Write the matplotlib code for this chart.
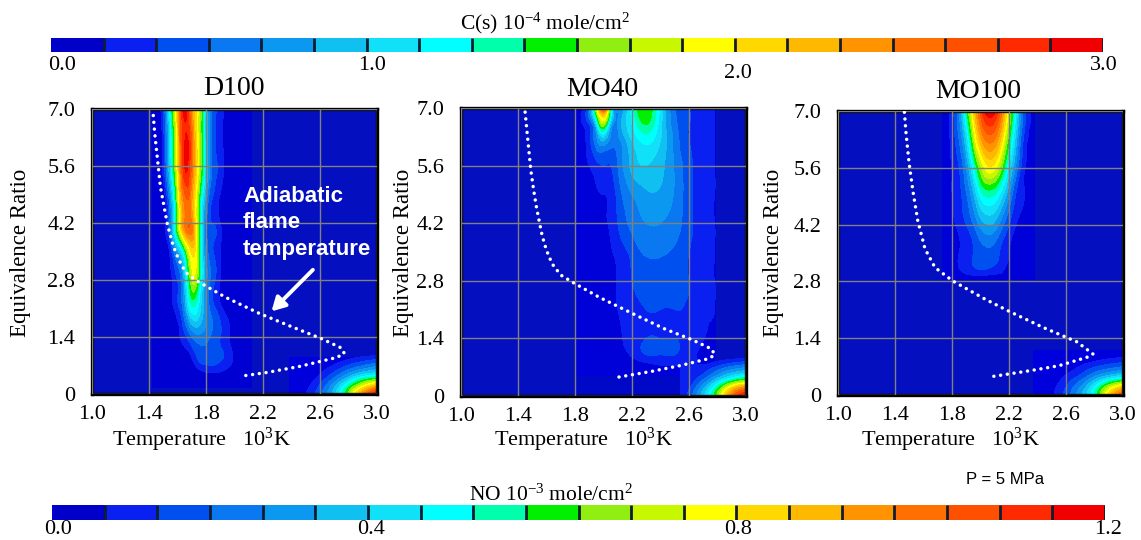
"""Soot and NO maps over temperature and equivalence ratio for three fuels."""

from __future__ import annotations

import matplotlib

matplotlib.use("Agg")

import matplotlib.pyplot as plt
import numpy as np
from matplotlib.colors import BoundaryNorm, ListedColormap
from matplotlib.patches import Rectangle
from matplotlib.tri import CubicTriInterpolator, Triangulation, UniformTriRefiner

plt.rcParams["font.family"] = ["Liberation Serif", "DejaVu Serif"]
plt.rcParams["mathtext.default"] = "regular"

FIG_W, FIG_H = 1141, 540

LEVEL_COLORS = [
    "#0000c8", "#0a20f0", "#0050f0", "#0a78f0", "#0a98f0",
    "#10c0f0", "#10e0f8", "#00ffff", "#00ffaa", "#00f000",
    "#90ee10", "#c8f800", "#ffff00", "#ffd800", "#ffb800",
    "#ff9400", "#ff7000", "#ff5000", "#ff2a00", "#f00000",
]
SOOT_LEVELS = np.linspace(0.0, 3.0, 21)
NO_LEVELS = np.linspace(0.0, 1.2, 21)

X_TICKS = [1.0, 1.4, 1.8, 2.2, 2.6, 3.0]
Y_TICKS = [0, 1.4, 2.8, 4.2, 5.6, 7.0]
Y_TICK_LABELS = ["0", "1.4", "2.8", "4.2", "5.6", "7.0"]

# C(s), 10^-4 mole/cm2
D100_T = [1.0, 1.3, 1.4, 1.45, 1.5, 1.55, 1.6, 1.65, 1.7, 1.75, 1.8, 1.85, 1.9, 1.95, 2.0, 2.05, 2.1, 2.2, 3.0]
D100_PHI = [0.0, 0.25, 0.5, 0.8, 1.4, 2.1, 2.8, 3.5, 4.2, 5.6, 7.0]
D100_SOOT = [
    [0, 0, 0, 0, 0, 0, 0, 0, 0, 0, 0, 0, 0, 0, 0, 0, 0, 0, 0],
    [0, 0, 0, 0, 0, 0, 0, 0, 0, 0, 0, 0, 0, 0, 0, 0, 0, 0, 0],
    [0, 0, 0, 0, 0, 0, 0, 0, 0, 0.05, 0.12, 0.12, 0.12, 0.05, 0, 0, 0, 0, 0],
    [0, 0, 0, 0, 0, 0, 0, 0, 0.1, 0.3, 0.35, 0.35, 0.3, 0.25, 0.1, 0, 0, 0, 0],
    [0, 0, 0, 0, 0, 0, 0.1, 0.25, 0.45, 0.55, 0.5, 0.4, 0.3, 0.2, 0.05, 0, 0, 0, 0],
    [0, 0, 0, 0, 0, 0.05, 0.25, 0.6, 1.15, 1.0, 0.6, 0.35, 0.2, 0.05, 0, 0, 0, 0, 0],
    [0, 0, 0, 0, 0, 0.1, 0.3, 0.8, 1.65, 1.35, 0.65, 0.35, 0.15, 0, 0, 0, 0, 0, 0],
    [0, 0, 0, 0, 0, 0.2, 0.7, 1.3, 2.0, 1.45, 0.55, 0.3, 0.15, 0, 0, 0, 0, 0, 0],
    [0, 0, 0, 0, 0.05, 0.5, 1.55, 2.4, 2.4, 1.4, 0.5, 0.3, 0.15, 0, 0, 0, 0, 0, 0],
    [0, 0, 0, 0, 0.2, 0.95, 1.9, 2.85, 2.5, 1.75, 0.95, 0.4, 0.25, 0.05, 0, 0, 0, 0, 0],
    [0, 0, 0, 0.05, 0.3, 1.2, 2.1, 2.95, 2.3, 1.75, 0.95, 0.4, 0.25, 0.05, 0, 0, 0, 0, 0],
]
MO40_T = [1.0, 1.7, 1.8, 1.9, 1.95, 2.0, 2.05, 2.1, 2.2, 2.3, 2.4, 2.5, 2.6, 2.7, 2.78, 2.9, 3.0]
MO40_PHI = [0.0, 0.5, 0.75, 1.0, 1.4, 2.1, 2.8, 3.5, 4.2, 4.9, 5.6, 6.2, 6.6, 7.0]
MO40_SOOT = [
    [0, 0, 0, 0, 0, 0, 0, 0, 0, 0, 0, 0, 0, 0, 0, 0, 0],
    [0, 0, 0, 0, 0, 0, 0, 0, 0, 0, 0, 0, 0, 0, 0, 0, 0],
    [0, 0, 0, 0, 0, 0, 0, 0, 0.05, 0.1, 0.15, 0.15, 0.15, 0.1, 0, 0, 0],
    [0, 0, 0, 0, 0, 0, 0, 0.05, 0.17, 0.3, 0.3, 0.3, 0.2, 0.1, 0, 0, 0],
    [0, 0, 0, 0, 0, 0, 0.02, 0.1, 0.2, 0.3, 0.3, 0.3, 0.25, 0.16, 0.05, 0, 0],
    [0, 0, 0, 0, 0, 0, 0.05, 0.15, 0.25, 0.3, 0.3, 0.3, 0.28, 0.18, 0.15, 0, 0],
    [0, 0, 0, 0, 0, 0, 0.1, 0.16, 0.3, 0.33, 0.33, 0.33, 0.3, 0.2, 0.15, 0, 0],
    [0, 0, 0, 0, 0, 0.02, 0.12, 0.2, 0.35, 0.48, 0.48, 0.42, 0.3, 0.2, 0.15, 0, 0],
    [0, 0, 0, 0, 0, 0.1, 0.18, 0.3, 0.5, 0.6, 0.6, 0.52, 0.35, 0.2, 0.15, 0, 0],
    [0, 0, 0, 0, 0.1, 0.15, 0.2, 0.35, 0.6, 0.72, 0.72, 0.58, 0.35, 0.2, 0.15, 0, 0],
    [0, 0, 0, 0.15, 0.25, 0.3, 0.3, 0.45, 0.8, 0.9, 0.8, 0.58, 0.35, 0.2, 0.15, 0, 0],
    [0, 0, 0.05, 0.25, 0.55, 0.75, 0.55, 0.55, 0.9, 1.1, 0.9, 0.55, 0.3, 0.25, 0.15, 0, 0],
    [0, 0, 0.05, 0.3, 0.9, 1.6, 0.8, 0.6, 1.05, 1.35, 0.95, 0.5, 0.3, 0.25, 0.15, 0, 0],
    [0, 0, 0.1, 0.5, 1.7, 2.8, 1.2, 0.65, 1.15, 1.5, 1.0, 0.45, 0.3, 0.25, 0.15, 0, 0],
]
MO100_T = [1.0, 1.65, 1.75, 1.8, 1.85, 1.9, 1.95, 2.0, 2.05, 2.1, 2.15, 2.2, 2.25, 2.3, 2.4, 2.5, 3.0]
MO100_PHI = [0.0, 2.5, 2.8, 3.0, 3.5, 4.2, 5.0, 5.6, 6.3, 7.0]
MO100_SOOT = [
    [0, 0, 0, 0, 0, 0, 0, 0, 0, 0, 0, 0, 0, 0, 0, 0, 0],
    [0, 0, 0, 0, 0, 0, 0, 0, 0, 0, 0, 0, 0, 0, 0, 0, 0],
    [0, 0, 0, 0, 0, 0, 0, 0, 0, 0, 0, 0, 0, 0, 0, 0, 0],
    [0, 0, 0, 0.02, 0.1, 0.16, 0.2, 0.22, 0.2, 0.17, 0.14, 0.05, 0, 0, 0, 0, 0],
    [0, 0, 0, 0.05, 0.15, 0.22, 0.3, 0.4, 0.42, 0.38, 0.25, 0.15, 0.05, 0, 0, 0, 0],
    [0, 0, 0.02, 0.1, 0.2, 0.3, 0.45, 0.65, 0.75, 0.7, 0.5, 0.3, 0.15, 0.1, 0, 0, 0],
    [0, 0, 0.05, 0.15, 0.25, 0.45, 0.75, 1.15, 1.3, 1.25, 1.0, 0.65, 0.3, 0.16, 0.05, 0, 0],
    [0, 0, 0.05, 0.15, 0.3, 0.6, 1.1, 1.6, 1.9, 1.85, 1.5, 1.0, 0.55, 0.2, 0.08, 0, 0],
    [0, 0, 0.05, 0.2, 0.45, 0.9, 1.6, 2.2, 2.45, 2.4, 2.0, 1.4, 0.8, 0.3, 0.1, 0, 0],
    [0, 0, 0.05, 0.25, 0.55, 1.3, 2.0, 2.6, 2.95, 2.9, 2.4, 1.7, 1.0, 0.4, 0.1, 0, 0],
]

# NO, 10^-3 mole/cm2, hot lean corner of each map
NO_T = [2.4, 2.5, 2.6, 2.7, 2.8, 2.9, 3.0]
NO_PHI = [0.0, 0.2, 0.4, 0.6, 0.8, 1.0]
D100_NO = [
    [0, 0.06, 0.16, 0.34, 0.62, 0.95, 1.15],
    [0, 0.04, 0.13, 0.28, 0.5, 0.72, 0.88],
    [0, 0.02, 0.08, 0.18, 0.32, 0.46, 0.52],
    [0, 0, 0.04, 0.1, 0.18, 0.25, 0.3],
    [0, 0, 0.01, 0.04, 0.08, 0.12, 0.15],
    [0, 0, 0, 0, 0.01, 0.02, 0.03],
]
MO40_NO = [
    [0, 0.03, 0.14, 0.34, 0.62, 0.98, 1.15],
    [0, 0.02, 0.11, 0.28, 0.52, 0.8, 0.95],
    [0, 0, 0.07, 0.18, 0.33, 0.48, 0.58],
    [0, 0, 0.04, 0.1, 0.19, 0.27, 0.32],
    [0, 0, 0.01, 0.04, 0.08, 0.12, 0.15],
    [0, 0, 0, 0, 0, 0, 0],
]
MO100_NO = [
    [0, 0.05, 0.14, 0.28, 0.48, 0.8, 1.05],
    [0, 0.04, 0.12, 0.24, 0.42, 0.66, 0.82],
    [0, 0.02, 0.08, 0.16, 0.28, 0.4, 0.48],
    [0, 0, 0.04, 0.09, 0.16, 0.21, 0.25],
    [0, 0, 0.01, 0.04, 0.07, 0.1, 0.12],
    [0, 0, 0, 0, 0.01, 0.02, 0.03],
]

# adiabatic flame temperature
D100_FLAME_T = [1.43, 1.44, 1.46, 1.48, 1.51, 1.53, 1.57, 1.61, 1.66, 1.73, 1.94, 2.18, 2.41, 2.61, 2.75, 2.77, 2.72, 2.46, 2.23, 2.07]
D100_FLAME_PHI = [6.84, 6.41, 5.75, 5.09, 4.52, 4.15, 3.64, 3.29, 2.98, 2.79, 2.37, 1.97, 1.64, 1.36, 1.13, 1.00, 0.90, 0.68, 0.53, 0.45]
MO40_FLAME_T = [1.45, 1.46, 1.475, 1.49, 1.51, 1.53, 1.55, 1.57, 1.60, 1.64, 1.70, 1.79, 1.97, 2.20, 2.43, 2.62, 2.76, 2.78, 2.74, 2.54, 2.34, 2.09]
MO40_FLAME_PHI = [6.90, 6.54, 6.01, 5.49, 5.0, 4.58, 4.23, 3.89, 3.54, 3.21, 2.94, 2.75, 2.40, 2.01, 1.63, 1.37, 1.14, 1.00, 0.91, 0.74, 0.60, 0.45]
MO100_FLAME_T = [1.466, 1.478, 1.499, 1.527, 1.56, 1.611, 1.681, 1.806, 2.028, 2.208, 2.443, 2.677, 2.789, 2.747, 2.548, 2.349, 2.091]
MO100_FLAME_PHI = [6.97, 6.43, 5.71, 5.0, 4.29, 3.6, 3.14, 2.81, 2.37, 2.05, 1.66, 1.31, 1.01, 0.93, 0.72, 0.6, 0.46]

PANELS = [
    {"name": "D100", "box": (92, 109, 377, 394), "title": (234, 89),
     "temps": D100_T, "phis": D100_PHI, "soot": D100_SOOT, "no": D100_NO,
     "flame": (D100_FLAME_T, D100_FLAME_PHI),
     "back": [(1.42, 0.15, 2.12, 6.95, "#0000d2"), (2.38, 0.0, 2.98, 0.92, "#0000dc")],
     "ylabel_x": 21, "xlabel": (201, 440)},
    {"name": "MO40", "box": (461, 108, 746, 396), "title": (602, 90),
     "temps": MO40_T, "phis": MO40_PHI, "soot": MO40_SOOT, "no": MO40_NO,
     "flame": (MO40_FLAME_T, MO40_FLAME_PHI),
     "back": [(1.8, 0.45, 2.79, 7.0, "#0000d8"), (1.8, 0.0, 2.54, 0.48, "#0008c8"),
              (2.54, 0.0, 3.0, 0.78, "#0a20ee")],
     "ylabel_x": 403, "xlabel": (583, 440)},
    {"name": "MO100", "box": (838, 111, 1123, 395), "title": (978, 92),
     "temps": MO100_T, "phis": MO100_PHI, "soot": MO100_SOOT, "no": MO100_NO,
     "flame": (MO100_FLAME_T, MO100_FLAME_PHI),
     "back": [(1.73, 2.83, 2.38, 7.0, "#0000d8"), (2.37, 0.0, 3.0, 1.1, "#0000dc")],
     "ylabel_x": 774, "xlabel": (950, 440)},
]


def px_x(x: float) -> float:
    """Convert a pixel column to a figure fraction."""
    return x / FIG_W


def px_y(y: float) -> float:
    """Convert a pixel row (from the top) to a figure fraction."""
    return 1 - y / FIG_H


def fig_text(fig: plt.Figure, x: float, y: float, text: str, size: float = 16, **kwargs) -> None:
    """Place centred text at a pixel position."""
    fig.text(px_x(x), px_y(y), text, ha="center", va="center", fontsize=size, **kwargs)


def draw_field(ax: plt.Axes, temps, phis, values, levels) -> None:
    """Draw one stepped field, leaving the lowest level as background."""
    tt, pp = np.meshgrid(temps, phis)
    tri = Triangulation(tt.ravel(), pp.ravel())
    z = np.asarray(values, dtype=float).ravel()
    interp = CubicTriInterpolator(tri, z, kind="min_E")
    fine_tri, fine_z = UniformTriRefiner(tri).refine_field(z, interp, subdiv=3)
    # the spline overshoots a little at the ridges, keep it on the scale
    fine_z = np.clip(fine_z, levels[0], levels[-1] * 0.999)
    ax.tricontourf(fine_tri, fine_z, levels=levels[1:], colors=LEVEL_COLORS[1:],
                   zorder=1.5, antialiased=False)


def draw_panel(fig: plt.Figure, panel: dict) -> plt.Axes:
    """Draw one map with its grid, flame curve and labels."""
    left, top, right, bottom = panel["box"]
    ax = fig.add_axes([px_x(left), px_y(bottom), (right - left) / FIG_W, (bottom - top) / FIG_H])
    ax.set_facecolor("#0410c0")
    for t0, p0, t1, p1, color in panel["back"]:
        ax.add_patch(Rectangle((t0, p0), t1 - t0, p1 - p0, facecolor=color, edgecolor="none", zorder=1))
    draw_field(ax, panel["temps"], panel["phis"], panel["soot"], SOOT_LEVELS)
    draw_field(ax, NO_T, NO_PHI, panel["no"], NO_LEVELS)
    ax.set_xlim(1.0, 3.0)
    ax.set_ylim(0.0, 7.0)
    ax.set_xticks(X_TICKS)
    ax.set_xticklabels([f"{t:.1f}" for t in X_TICKS], fontsize=16)
    ax.set_yticks(Y_TICKS)
    ax.set_yticklabels(Y_TICK_LABELS, fontsize=16)
    ax.tick_params(axis="x", length=0, pad=8)
    ax.tick_params(axis="y", length=0, pad=12)
    ax.grid(color="#808080", linewidth=1.0, zorder=2)
    ax.set_axisbelow(False)
    for spine in ax.spines.values():
        spine.set_linewidth(2.4)
    flame_t, flame_phi = panel["flame"]
    ax.plot(flame_t, flame_phi, color="white", linewidth=2.5, linestyle=(0, (0.01, 1.95)),
            dash_capstyle="round", zorder=4)
    fig_text(fig, *panel["title"], panel["name"], size=20)
    fig_text(fig, panel["ylabel_x"], 253, "Equivalence Ratio", size=16.5, rotation=90)
    fig_text(fig, *panel["xlabel"], "Temperature   10$^{3}$K")
    return ax


def draw_scale(fig: plt.Figure, box: tuple[int, int, int, int], levels: np.ndarray) -> None:
    """Draw a horizontal stepped colour scale with separators."""
    left, top, right, bottom = box
    ax = fig.add_axes([px_x(left), px_y(bottom), (right - left) / FIG_W, (bottom - top) / FIG_H])
    centers = (levels[:-1] + levels[1:]) / 2
    cmap = ListedColormap(LEVEL_COLORS)
    ax.pcolormesh(levels, [0, 1], centers.reshape(1, -1), cmap=cmap, norm=BoundaryNorm(levels, cmap.N))
    ax.vlines(levels[1:], 0, 1, color="#101c30", linewidth=2.0)
    ax.set_xlim(levels[0], levels[-1])
    ax.axis("off")


def main() -> None:
    """Build the whole figure and save it."""
    fig = plt.figure(figsize=(FIG_W / 100, FIG_H / 100), dpi=100, facecolor="white")
    axes = [draw_panel(fig, panel) for panel in PANELS]

    draw_scale(fig, (51, 38, 1103, 52), SOOT_LEVELS)
    draw_scale(fig, (52, 505, 1105, 520), NO_LEVELS)

    fig_text(fig, 545, 23, "C(s) 10$^{-4}$ mole/cm$^{2}$", size=15.5)
    fig_text(fig, 551, 495, "NO 10$^{-3}$ mole/cm$^{2}$", size=15.5)
    for x, y, label in [(62, 65, "0.0"), (372, 65, "1.0"), (738, 73, "2.0"), (1104, 65, "3.0")]:
        fig_text(fig, x, y, label, size=16)
    for x, label in [(58, "0.0"), (371, "0.4"), (738, "0.8"), (1108, "1.2")]:
        fig_text(fig, x, 530, label, size=16)
    fig_text(fig, 1005, 479, "P = 5 MPa", size=12, family=["Liberation Sans", "DejaVu Sans"])

    axes[0].text(2.06, 3.29, "Adiabatic\nflame\ntemperature", color="white", fontsize=16, fontweight="bold",
                 family=["Liberation Sans", "DejaVu Sans"], ha="left", va="bottom", linespacing=1.35, zorder=5)
    axes[0].annotate("", xy=(2.26, 2.03), xytext=(2.55, 3.05), zorder=5,
                     arrowprops={"arrowstyle": "-|>,head_width=0.45,head_length=0.8", "color": "white",
                                 "linewidth": 2.8, "shrinkA": 0, "shrinkB": 0})

    fig.savefig("out.png", dpi=100)
    plt.close(fig)


if __name__ == "__main__":
    main()
